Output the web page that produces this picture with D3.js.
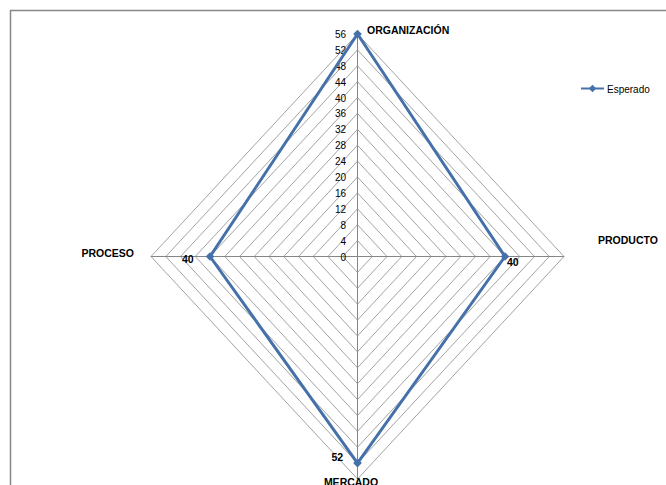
<!DOCTYPE html>
<html>
<head>
<meta charset="utf-8">
<script src="https://cdn.jsdelivr.net/npm/d3@7"></script>
<style>
  body { margin: 0; background: #fff; }
  svg { font-family: "Liberation Sans", Arial, sans-serif; }
</style>
</head>
<body>
<svg id="chart"></svg>
<script>
const width = 666, height = 485;

// data
const axes = ["ORGANIZACIÓN", "PRODUCTO", "MERCADO", "PROCESO"];
const esperado = [56, 40, 52, 40];
const showLabel = [false, true, true, true];
const ticks = d3.range(0, 57, 4);
const seriesName = "Esperado";

const svg = d3.select("#chart")
    .attr("width", width)
    .attr("height", height);

// chart area border (runs off the right/bottom edge)
svg.append("path")
    .attr("d", "M10.5,490V10.5H680")
    .attr("fill", "none")
    .attr("stroke", "#878787")
    .attr("stroke-width", 1.5);

const cx = 357.5, cy = 256.5;

// excel squashed the radar a bit horizontally
const rx = d3.scaleLinear().domain([0, 56]).range([0, 206.5]);
const ry = d3.scaleLinear().domain([0, 56]).range([0, 222.5]);

const angle = i => i * 2 * Math.PI / axes.length;
const px = (i, v) => cx + rx(v) * Math.sin(angle(i));
const py = (i, v) => cy - ry(v) * Math.cos(angle(i));

// grid rings
const grid = svg.append("g");
grid.selectAll("path.ring")
    .data(ticks.filter(t => t > 0))
    .join("path")
    .attr("class", "ring")
    .attr("d", t => d3.line()(axes.map((a, i) => [px(i, t), py(i, t)])) + "Z")
    .attr("fill", "none")
    .attr("stroke", "#a3a3a3")
    .attr("stroke-width", 1);

// spokes
grid.selectAll("line.spoke")
    .data(axes)
    .join("line")
    .attr("class", "spoke")
    .attr("x1", cx).attr("y1", cy)
    .attr("x2", (d, i) => px(i, 56))
    .attr("y2", (d, i) => py(i, 56))
    .attr("stroke", "#868686")
    .attr("stroke-width", 1);

// tick labels along the top spoke
svg.append("g").selectAll("text")
    .data(ticks)
    .join("text")
    .attr("x", 346)
    .attr("y", t => cy - ry(t) + 4)
    .attr("text-anchor", "end")
    .attr("font-size", 10)
    .attr("fill", "#000")
    .text(t => t);

// category labels
const labelPos = [
    { x: 367, y: 34, anchor: "start" },
    { x: 598, y: 244, anchor: "start" },
    { x: 351, y: 486, anchor: "middle" },
    { x: 134, y: 257, anchor: "end" }
];
svg.append("g").selectAll("text")
    .data(axes)
    .join("text")
    .attr("x", (d, i) => labelPos[i].x)
    .attr("y", (d, i) => labelPos[i].y)
    .attr("text-anchor", (d, i) => labelPos[i].anchor)
    .attr("font-size", 10.5)
    .attr("font-weight", "bold")
    .attr("fill", "#000")
    .text(d => d);

// series line
const color = "#4571aa";
const pts = esperado.map((v, i) => [px(i, v), py(i, v)]);
svg.append("path")
    .attr("d", d3.line()(pts) + "Z")
    .attr("fill", "none")
    .attr("stroke", color)
    .attr("stroke-width", 3)
    .attr("stroke-linejoin", "round");

const diamond = d3.symbol().type(d3.symbolDiamond2).size(48);
svg.append("g").selectAll("path")
    .data(pts)
    .join("path")
    .attr("transform", d => `translate(${d[0]},${d[1]})`)
    .attr("d", diamond)
    .attr("fill", color);

// data labels
const dataLabelOffset = [[0, 0], [2, 9], [-26, -2], [-28, 6]];
svg.append("g").selectAll("text")
    .data(esperado.map((v, i) => ({ v, i })).filter(d => showLabel[d.i]))
    .join("text")
    .attr("x", d => px(d.i, d.v) + dataLabelOffset[d.i][0])
    .attr("y", d => py(d.i, d.v) + dataLabelOffset[d.i][1])
    .attr("font-size", 10.5)
    .attr("font-weight", "bold")
    .attr("fill", "#000")
    .text(d => d.v);

// legend
const legend = svg.append("g").attr("transform", "translate(581,88.5)");
legend.append("line")
    .attr("x1", 0).attr("x2", 23)
    .attr("stroke", color)
    .attr("stroke-width", 2);
legend.append("path")
    .attr("transform", "translate(11.5,0)")
    .attr("d", d3.symbol().type(d3.symbolDiamond2).size(36))
    .attr("fill", color);
legend.append("text")
    .attr("x", 26)
    .attr("y", 4)
    .attr("font-size", 10)
    .attr("fill", "#000")
    .text(seriesName);
</script>
</body>
</html>
